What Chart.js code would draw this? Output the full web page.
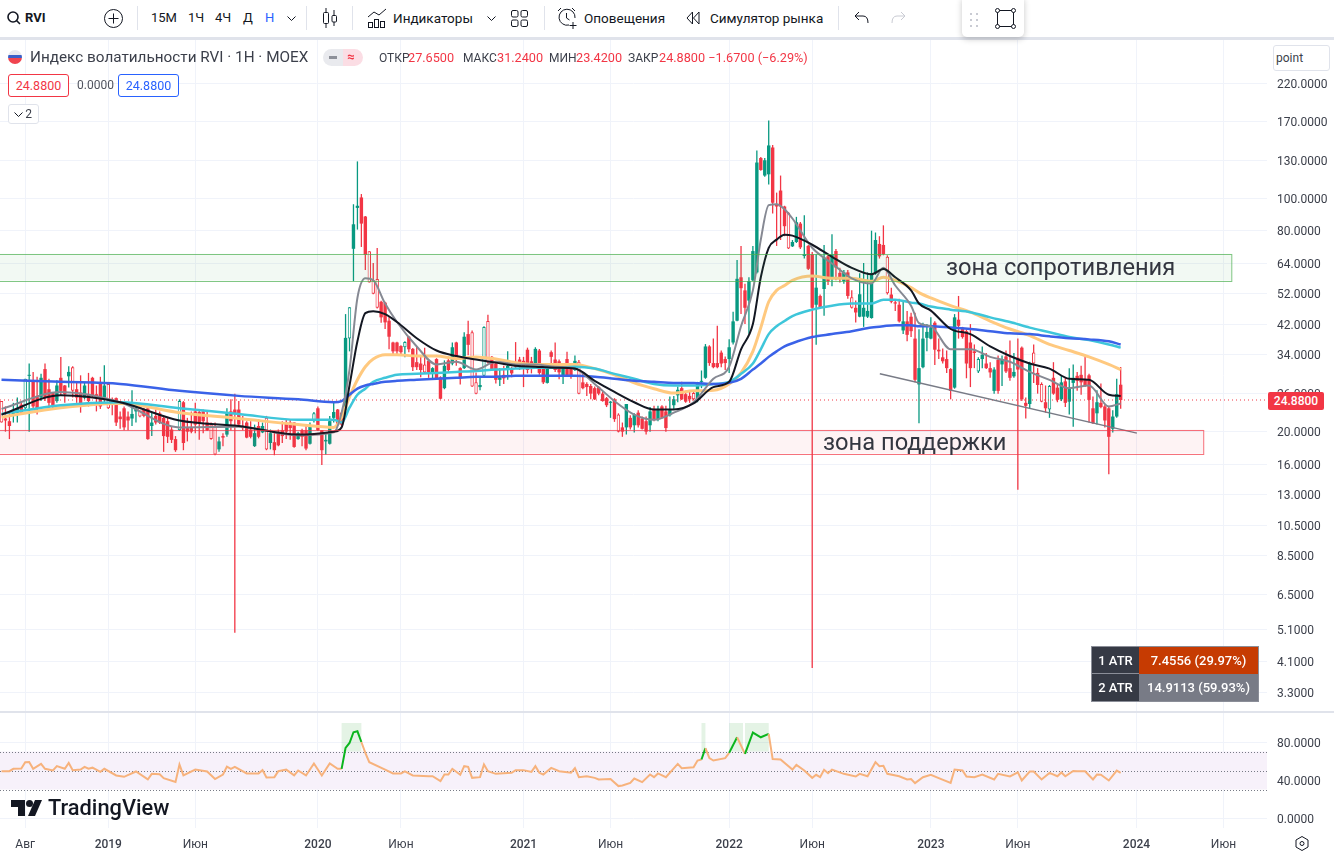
<!DOCTYPE html>
<html>
<head>
<meta charset="utf-8">
<title>RVI</title>
<script src="https://cdn.jsdelivr.net/npm/chart.js@4"></script>
<style>
html,body{margin:0;padding:0;background:#fff;width:1334px;height:851px;overflow:hidden;font-family:Roboto,sans-serif;color:#131722}
.t{position:absolute;white-space:nowrap;line-height:16px}
.box{position:absolute;box-sizing:border-box;border-radius:3px;text-align:center;background:#fff}
canvas{position:absolute;left:0}
svg{position:absolute;overflow:visible}
.d{position:absolute;top:6px;width:1px;height:24px;background:#e0e3eb}
.l{font-size:12px;color:#3b3f4a;top:50px}
.v{font-size:12.7px;color:#f23645;top:50px}
</style>
</head>
<body>
<canvas id="mainChart" width="1334" height="671" style="top:40px"></canvas>
<canvas id="rsiChart" width="1334" height="139" style="top:712px"></canvas>

<!-- верхняя панель -->
<div style="position:absolute;left:0;top:0;width:1334px;height:37px;background:#fff"></div>
<div style="position:absolute;left:0;top:37px;width:1334px;height:3px;background:#e0e3eb"></div>
<div style="position:absolute;left:0;top:711px;width:1334px;height:2px;background:#e0e3eb"></div>
<svg style="left:7px;top:11px" width="14" height="14" fill="none" stroke="#131722" stroke-width="1.6"><circle cx="6" cy="6" r="5"/><path d="M9.5 9.5L13 13"/></svg>
<div class="t" style="left:25px;top:10px;font-size:13px;font-weight:700">RVI</div>
<svg style="left:104px;top:9px" width="19" height="19" fill="none" stroke="#131722"><circle cx="9.5" cy="9.5" r="9"/><path d="M9.5 4.5v10M4.5 9.5h10"/></svg>
<div class="d" style="left:137px"></div>
<div class="t" style="left:151px;top:10px;font-size:13px">15М</div>
<div class="t" style="left:188px;top:10px;font-size:13px">1Ч</div>
<div class="t" style="left:215px;top:10px;font-size:13px">4Ч</div>
<div class="t" style="left:243px;top:10px;font-size:13px">Д</div>
<div class="t" style="left:265px;top:10px;font-size:13px;color:#2962ff">Н</div>
<svg style="left:287px;top:16px" width="9" height="5" fill="none" stroke="#131722"><path d="M.5.5L4.5 4.5 8.5.5"/></svg>
<div class="d" style="left:306px"></div>
<svg style="left:322px;top:8px" width="16" height="20" fill="none" stroke="#131722"><path d="M4 0v4M4 16v4M12 2v5M12 14v4"/><rect x="1.5" y="4.5" width="5" height="11" rx="1"/><rect x="10" y="7.5" width="4.5" height="6.5" rx="1"/></svg>
<div class="d" style="left:352px"></div>
<svg style="left:367px;top:8px" width="20" height="20" fill="none" stroke="#131722"><path d="M1 9L7 4l5 3 7-6"/><rect x="1.5" y="14.5" width="4" height="5"/><rect x="7.5" y="11.5" width="4" height="8"/><rect x="13.5" y="13.5" width="4" height="6"/></svg>
<div class="t" style="left:393px;top:10px;font-size:13.5px">Индикаторы</div>
<svg style="left:487px;top:16px" width="9" height="5" fill="none" stroke="#131722"><path d="M.5.5L4.5 4.5 8.5.5"/></svg>
<svg style="left:511px;top:10px" width="17" height="17" fill="none" stroke="#131722"><rect x=".5" y=".5" width="6.5" height="6.5" rx="1.5"/><rect x="10" y=".5" width="6.5" height="6.5" rx="1.5"/><rect x=".5" y="10" width="6.5" height="6.5" rx="1.5"/><rect x="10" y="10" width="6.5" height="6.5" rx="1.5"/></svg>
<div class="d" style="left:544px"></div>
<svg style="left:557px;top:7px" width="21" height="22" fill="none" stroke="#131722"><path d="M12 18A8 8 0 1 1 18 11M9.5 6v5l3 2M1 4l3-3M15 1l3 3M16 15v7M12.5 18.5h7"/></svg>
<div class="t" style="left:584px;top:10px;font-size:13.5px">Оповещения</div>
<svg style="left:686px;top:11px" width="14" height="14" fill="none" stroke="#131722"><path d="M6.5 1L1 7l5.5 6V1zM13 1L7.5 7l5.5 6V1z"/></svg>
<div class="t" style="left:710px;top:10px;font-size:13.5px">Симулятор рынка</div>
<div class="d" style="left:838px"></div>
<svg style="left:854px;top:11px" width="15" height="13" fill="none" stroke="#131722"><path d="M5 1L1 5l4 4M1 5h8q5 0 5 7"/></svg>
<svg style="left:891px;top:11px" width="15" height="13" fill="none" stroke="#c9cbd3"><path d="M10 1l4 4-4 4M14 5H6q-5 0-5 7"/></svg>
<div style="position:absolute;left:962px;top:-4px;width:62px;height:41px;background:#fff;border-radius:5px;box-shadow:0 2px 6px rgba(0,0,0,.22)"></div>
<svg style="left:970px;top:13px" width="9" height="16" fill="#c9cbd3"><rect width="2" height="2"/><rect x="6" width="2" height="2"/><rect y="6" width="2" height="2"/><rect x="6" y="6" width="2" height="2"/><rect y="12" width="2" height="2"/><rect x="6" y="12" width="2" height="2"/></svg>
<svg style="left:995px;top:8px" width="21" height="21" fill="#fff" stroke="#131722"><rect x="2.5" y="2.5" width="16" height="16" fill="none"/><circle cx="2.5" cy="2.5" r="2"/><circle cx="18.5" cy="2.5" r="2"/><circle cx="2.5" cy="18.5" r="2"/><circle cx="18.5" cy="18.5" r="2"/></svg>

<!-- заголовок -->
<div style="position:absolute;left:8px;top:50px;width:14px;height:14px;border-radius:7px;background:linear-gradient(#e8e8ef 0 33%,#3a5fc8 33% 60%,#f0444f 60%)"></div>
<div class="t" style="left:30px;top:49px;font-size:15.3px;color:#3b3f4a">Индекс волатильности RVI · 1Н · MOEX</div>
<div style="position:absolute;left:323px;top:49px;width:20px;height:17px;background:#e9eaee;border-radius:9px 0 0 9px"></div>
<div style="position:absolute;left:343px;top:49px;width:20px;height:17px;background:#fbdde4;border-radius:0 9px 9px 0"></div>
<div style="position:absolute;left:329px;top:56px;width:8px;height:3px;background:#8d9099"></div>
<div class="t" style="left:347px;top:49px;font-size:13px;color:#f23645;font-weight:700">≈</div>
<div class="t l" style="left:379px">ОТКР</div>
<div class="t v" style="left:408px">27.6500</div>
<div class="t l" style="left:463px">МАКС</div>
<div class="t v" style="left:497px">31.2400</div>
<div class="t l" style="left:549px">МИН</div>
<div class="t v" style="left:576px">23.4200</div>
<div class="t l" style="left:628px">ЗАКР</div>
<div class="t v" style="left:659px">24.8800 −1.6700 (−6.29%)</div>
<div class="box" style="left:8px;top:74px;width:61px;height:23px;border:1px solid #f23645;color:#f23645;font-size:12.5px;line-height:21px">24.8800</div>
<div class="t" style="left:77px;top:77px;font-size:12px;color:#50535e">0.0000</div>
<div class="box" style="left:118px;top:74px;width:61px;height:23px;border:1px solid #2962ff;color:#2962ff;font-size:12.5px;line-height:21px">24.8800</div>
<div class="box" style="left:8px;top:104px;width:31px;height:20px;border:1px solid #e0e3eb;font-size:12px;line-height:18px;color:#3b3f4a;text-align:right;padding-right:6px">2</div>
<svg style="left:14px;top:112px" width="9" height="5" fill="none" stroke="#131722"><path d="M.5.5L4.5 4.5 8.5.5"/></svg>
<div class="box" style="left:1273px;top:45px;width:57px;height:26px;border:1px solid #e0e3eb;font-size:12px;line-height:24px;text-align:left;padding-left:2px;color:#3b3f4a">point</div>

<!-- подписи зон -->
<div class="t" style="left:946px;top:255px;font-size:23.7px;line-height:24px;color:#333640">зона сопротивления</div>
<div class="t" style="left:823px;top:430px;font-size:23.7px;line-height:24px;color:#333640">зона поддержки</div>

<!-- метка цены -->
<div style="position:absolute;left:1268px;top:392px;width:56px;height:18px;background:#f23645;border-radius:2px;color:#fff;font-size:12px;font-weight:500;line-height:18px;text-align:center">24.8800</div>

<!-- таблица ATR -->
<div style="position:absolute;left:1092px;top:647px;width:166px;height:54px;outline:1px solid #8b8e98;font-size:13px;font-weight:500;color:#fff;line-height:27px;text-align:center">
<div style="position:absolute;left:0;top:0;width:47px;height:27px;background:#363a45;border-bottom:1px solid #8b8e98;box-sizing:border-box">1 ATR</div>
<div style="position:absolute;left:47px;top:0;width:119px;height:27px;background:#c63b02;box-sizing:border-box">7.4556 (29.97%)</div>
<div style="position:absolute;left:0;top:27px;width:47px;height:27px;background:#363a45">2 ATR</div>
<div style="position:absolute;left:47px;top:27px;width:119px;height:27px;background:#787b86">14.9113 (59.93%)</div>
</div>

<!-- логотип -->
<svg style="left:11px;top:800px" width="31" height="16" fill="#131722"><path d="M0 0h14v16H7V7H0z"/><circle cx="18.5" cy="3.5" r="3.5"/><path d="M24 0h7l-7 16h-7z"/></svg>
<div class="t" style="left:48px;top:796px;font-size:21.8px;line-height:24px;font-weight:500;color:#131722">TradingView</div>
<svg style="left:1295px;top:836px" width="14" height="15" fill="none" stroke="#131722"><path d="M7 .5l6 3.5v7l-6 3.5-6-3.5V4z"/><circle cx="7" cy="7.5" r="2"/></svg>

<script>
// Недельные свечи RVI, оценка по картинке
const bodyTops = [
24.7,21.9,21.5,23,23.5,24.1,28.8,29.6,28.5,25.6,
29,30.8,26.8,26.2,27.5,29,27.5,30.2,31.2,26.8,
26.2,27.5,25.9,29,25.9,27.8,27.5,27.8,25,25.2,
22.2,23.5,22.2,22.6,23.5,23.8,23.3,23.5,21.3,22.3,
22.7,22,21.5,20.3,19,24.7,24.5,20.5,20.5,23,
22.9,23,21.3,21,20.8,18.7,19.4,22.8,23,23.3,
23.3,20.8,21.3,20.3,19.8,20.8,20.8,22,19.8,18.6,
20,20.2,21.3,21.3,21.3,19.8,20.2,20.2,20.8,22.7,
23.5,20.2,18.9,21.5,22.9,23.3,22.8,38.2,47.2,83.6,
95,100.6,88.2,69.4,56.8,57.3,49,48.7,43,37,
37,36.1,37.1,38.5,35.4,32.3,32,31.8,32.6,31,
33,29.1,31.5,32.7,35.8,37,31,38.5,39.2,39.7,
28.1,27.6,41.2,42.9,33.5,32,29.1,29.6,31.5,31,
32,32.9,32.6,35.2,32.5,35.4,35,31,31.3,34.6,
32.9,32.5,31.5,33,31,32.6,32.4,28.1,27.8,27.4,
27,27.2,26,25.2,24.6,25,22.5,20.6,24.2,22,
22.5,22.8,21.9,21.5,23,23.4,23.4,23.8,23,23.2,
25,26.7,27,25.9,25.6,26.1,28,28.4,36,36,
32.1,32.1,34.5,33,35.8,42.8,57.4,58,53,56.5,
69.5,128,132,130,144,142,96,105.5,94.5,90.5,
74,84.8,84,68,72,68,54,51,66.5,67,
68,69.5,59.8,60,60,50.5,47,51.6,47,46,
59.7,75,73,72.5,66.8,51.5,48.8,48,42.8,42.8,
44.2,38,31,38,39.8,41,42.4,35.2,33.4,33,
30.8,44,43.3,41,40,37,34.8,33,34,32,
31,30.7,32.8,33,33.6,31,30.2,33.3,35.7,24.4,
32,34.5,30,27.8,24.5,27.4,29,27.1,28.1,28.3,
27.1,29,29.4,29.6,28.8,29.5,23.5,24.5,24.4,23.8,
23.5,22.2,25.9,27.65];
const bodyBottoms = [
21.3,21.6,20.8,22.5,22.8,22.8,23.5,29.4,23.8,23.5,
25.3,25.3,24.4,23.8,24.7,26.5,25.9,29.3,26.5,25.3,
24.1,25.3,24.7,25.7,25.3,23.8,25.3,23.5,24.4,21.3,
21.8,20.6,21.6,21.9,23,22.2,22.3,19,20.8,21.3,
21.3,19.4,19.3,18.9,17.6,20.2,18.5,20,20,21,
21.3,21.5,20.2,19,17.1,17.7,19.2,19.6,21.5,22.7,
21,20.5,19.2,19.3,18.1,19.3,19.9,17.7,18.5,17.6,
18.2,19.4,20,20.5,18,19,19.3,17.8,18.4,21.5,
20.2,17.6,18.7,18.4,22,21,21,23.3,38,70.6,
93.6,84,67.7,56,51.8,47,44,42.5,38.5,34.8,
34.8,34.6,35.8,35.3,31.2,31.2,30.6,30.1,30.1,30.1,
28.9,25.1,27,30.6,32,33.1,28.9,31,36.4,27.3,
26,27.2,29.4,32.2,30.6,28.6,28.6,28.9,31,29.9,
31.3,31.3,31,30.6,31,31.3,30,28.1,28,33.5,
30.6,30.1,29.4,29.4,29.4,30.6,26,27,27.2,26,
25,26,24.7,24,24.4,21.8,20,20,20.6,20.6,
20.9,20.9,20.4,20,20.9,21.8,21.8,22,20.5,22.4,
24,25.7,25,24.6,25,25,25,28.2,29,32.1,
31.2,31.2,32,32.1,33,37,43,53.8,47,49.4,
56.8,60,121.6,117,118,97,94.5,94.5,82.5,70.8,
71.8,74,71.3,67.2,61.5,47,48,47,53.5,56.5,
58,62,58,56.5,51,47,45.5,44.2,44.2,44.2,
43.8,59.6,67,68,52,49,48.4,42.8,40.2,39,
40,28.6,27.7,31.2,38.2,38,35.2,34.8,32.5,31,
26.5,27.1,41.5,38.4,32,31,34.4,30.3,33,31,
30.1,26.5,26.5,31.8,30.3,29,29.3,30.7,25,23.9,
24.2,32,27.6,24.6,23.5,23.3,26,24.9,25,24.4,
24.6,28,28.4,28.1,27.4,24.9,21.2,22.7,23.7,21.6,
19.3,20.4,22.2,24.88];
const highs = [
24.7,23.8,23,24.4,25.3,24.5,28.8,32,30.2,29.2,
29.8,32,28.8,26.3,28.5,33.5,27.6,31.4,31.4,28.1,
29.5,28.1,30,29.2,27.5,29.2,31.6,28.1,25.3,25.3,
23,23.8,23,26.6,24,24,23.6,23.8,22.8,23.3,
23,22.3,22,20.8,19.4,25,24.7,22,23,24.4,
23.3,23.3,23,21.3,21.3,19.3,19.8,23.5,25,26,
24.7,22.3,21.5,21.5,21,21.8,21.3,22.3,20.3,19.8,
20.3,21.5,21.8,21.7,21.3,20,20.4,21,21.3,22.9,
23.8,20.2,19.7,22.3,24.5,23.4,23,45,47.2,96,
129,103,88.5,69.4,64,71,49.3,49,44.2,37.2,
37.2,36.3,37.3,38.7,35.6,35.9,33.9,35.7,32.8,31.2,
33.2,29.3,32.7,33,37,37.2,31.2,39.7,43,40.2,
30.1,29.1,41.4,44.8,33.7,32.5,31,31.5,34.8,31.3,
37.1,33.5,33.5,35.7,33.5,35.8,35.4,32,31.6,35,
37,32.9,32,34.7,32,33.8,32.8,30.1,28.1,27.8,
27.3,27.4,26.4,25.4,24.7,25.2,22.7,21.3,24.2,22.4,
22.7,23.2,22.2,22.2,23.7,23.9,23.9,24,23.9,25.5,
25.6,27.3,28.2,26.5,26.5,26.3,28.2,30.5,36.6,36.3,
38,41.5,35,33.6,37.8,45.7,65.4,72,55.5,58,
72,139,133,132,171,144.5,104,117,95,91,
75,88,85,89,72.5,69,68,51.5,72.5,68,
78,70.5,62,61,61,53,49.4,59.6,64,60,
80,79,77,83,67.5,54,49.4,50,49.6,46,
45.4,45.4,40.5,42.4,42,44,42.8,38,35.5,35,
31,45,51,41.2,40.5,42,36.5,33.4,36,34.4,
32.3,31.2,33.8,33.8,35,37.5,34.4,38,36,25.3,
32.4,36.5,31,28.1,27.5,27.6,32.3,27.8,29.5,29,
31,31.8,30.2,31.5,34,29.8,25.5,26.6,27.9,24.1,
23.8,23.2,28.8,31.24];
const lows = [
21.3,20,19,21.3,21.3,22.5,23.4,20,23.4,22.5,
24.7,24.7,23.5,23.5,24.4,25.6,24.4,27.1,25.3,24.4,
22.8,25,23.8,25.3,23,23.4,24.5,23.4,22.4,20.8,
20.4,20.2,20.2,20.8,21.3,22.1,22.1,18.9,19.4,21,
21.1,17.4,18.5,18.5,17.4,20.1,17.6,18.7,19.8,19.8,
18.9,19.8,20.1,18.9,17,17.4,18.1,19.3,20.2,5,
20.8,20.2,19.1,19.1,18,19.1,19.8,17.6,17.7,17,
18.1,18.5,19,18.9,17.9,18.9,18.1,17.6,18.3,21.3,
20.1,15.9,17.1,18.3,21.3,20.9,20.8,22.2,34.8,56.5,
80.6,71.5,61,56,51.6,46.8,42.4,40.6,35.3,33.9,
34.2,34,33.4,34.6,30.4,30.6,29.1,30,29,28.9,
28.8,25,26.8,30.2,31.6,31.5,27.7,30.8,33.9,27.2,
25.9,26.6,29.2,32,30.4,27.9,27.4,27.8,28.6,29.1,
31,30.6,27.2,29.9,29.9,31,29.6,27.8,27.9,31,
30.2,28.7,27.8,29.2,28.8,30.4,25.9,26.8,25.6,25,
24.9,25.7,24.6,23.7,22,21.4,19.9,19.3,19.6,20.3,
19.9,20.6,20.3,19.6,20,21.5,21.5,21.9,20,22.2,
23.3,24.5,24.9,24.4,24.4,24.8,24.5,27,28.8,31.5,
31,31,31.2,30.6,30,36.5,42.8,45,42,39.3,
56.5,59.5,121,116,110,90,72,75,77,70.5,
71.5,73.5,70.5,66,61,3.92,36.4,46.8,44.5,55,
54.5,56.8,56,55.5,50,46.8,42.5,44,41.2,43.8,
43.6,59,66,67.5,51.5,48.5,46,42.5,39.2,37.3,
38.4,28.1,21.2,31,34.8,37.8,31.7,33,32,30,
25,26.9,38,38,28.9,27.2,31,30,31,30.8,
29,26,26,27.4,30,28.4,29,13.4,24.7,21.9,
23.4,28,26,24.5,22.8,22,25.8,24.5,24.7,23.7,
22.5,20.7,26.5,25.8,27.2,21.3,21.1,21,23.5,20.6,
14.9,19.9,22,23.42];
// r, g закрашенная свеча; R, G полая
const candleKinds = [
'RrrggrGgrr','grrrgrrgRr','rgrrrrgRrr','rrrggRrrgr','rrrrrGrrrr','rrrRRgrgrr','rrrrgrgRgr','rrrrrgrrgG','rrgggrrgGg',
'grrRRRrrrr','rrGrrrrRrg','rrgrgrrgrR','RgGRrrgrgr','rrrrrgrrgr','rrgrrgRrrr','rrrrgrRrgr','grrrgrgrrg','ggrrrRgggr',
'rrrrgggrrg','ggrggrrrrR','ggrgrrgrgr','grrgrRrggg','ggrrRrrrgr','rrggggrrrr','rgrrrrrGgr','rgrgrrgrrr','gRrRrGrrgr','ggrrrrrgrr','rggr'
].join('');

// Скользящие средние: точки
const maWeeks = [0,15,30,45,60,75,84,86,88,90,92,94,97,100,105,110,115,120,125,130,135,140,145,150,155,160,165,170,175,180,184,187,190,192,194,196,198,200,205,210,215,220,223,226,230,232,235,240,245,250,255,260,265,270,275,280,283];
const maGray = [23.4,26.3,24.5,20.6,20.7,19.5,19.9,22.8,30.7,50.3,57.6,56.8,48.4,42.6,36,31.8,32.4,30.7,32.4,31.8,31.8,31.3,30.9,27.8,24.7,22.5,21.7,22.8,24.5,28.8,31.3,41.4,53,75.2,95.4,96,92.8,87,71.1,63.8,57.6,55.6,61.9,54.8,47.7,42.3,41.4,35.3,35.3,33.5,32.4,30.2,28.6,27,27.5,23.8,24.3];
const maBlack = [22.5,25.7,24.5,21.6,20.8,19.6,20,20.6,27.5,37.3,45.3,45.9,45,42.6,38.1,35,33.7,32.9,32.2,31.5,31.3,31.1,30.9,28.4,26.3,24.5,23.3,23.3,24.3,27.2,28.2,35.3,42,58,71.1,75.2,77.8,77.3,72.6,66.8,61.9,59.2,61.4,58,53,48.4,46.1,40.6,39.2,36,33.7,32,30.9,28.8,28.6,25.8,25.6];
const maOrange = [22.1,23.6,24.3,22.8,21.9,21,20.6,22.1,25.4,28.6,31.3,33,34,34,33.7,33.7,33.1,33.5,33,32.2,31.8,31.8,31.8,30.9,29.6,28,26.9,26.1,26.5,26.6,27.8,30,34.8,41,49,53,54.8,56.8,58.5,57.6,57.6,56.4,58,56.8,54,52.2,50.3,47.7,45.6,42.9,40.6,38.8,36.5,35,33.5,31.8,30.7];
const maCyan = [22.6,24,24.5,23.5,22.6,21.7,21.7,21.3,23.6,25.8,26.9,28.2,29,29.6,29.8,30,30.2,30.4,30.7,30.9,31.1,31.1,31.3,30.9,29.8,28.8,27.8,27.5,27.5,27.8,28.2,29.8,32,35.3,39.2,41.4,42.9,44.4,46.4,47.7,48.4,48.4,49.7,49.7,48.7,48.4,47.4,46.4,45.6,44,42.6,41,39.7,38.4,37.6,36.5,35.7];
const maBlue = [28.6,28.2,27.8,26.5,25.6,25,24.5,24.7,25.8,26.9,27.5,27.8,28.2,28.4,28.6,28.8,29,29.2,29.2,29.4,29.4,29.4,29.4,29.2,28.8,28.4,28.2,28,28,27.8,28,28.8,30.7,32,33.5,34.8,36,36.8,38.4,39.2,40,41,41.4,41.7,41.7,41.4,41.4,41,40.6,40,39.4,39.2,38.6,38.1,37.8,37.3,36.5];

// RSI
const rsiWeeks = [0,2,3,5,6,7,8,10,11,13,14,16,17,18,20,21,22,23,25,26,29,31,34,37,38,40,41,44,45,46,49,52,54,56,57,58,59,62,65,66,67,69,70,72,74,75,77,79,81,83,85,86,87,88,89,90,91,92,93,97,99,101,102,104,108,109,111,112,113,114,116,117,118,119,121,122,123,125,129,130,132,134,135,136,137,139,141,144,145,146,148,150,151,154,156,157,159,160,162,164,165,166,168,171,172,175,176,177,178,179,180,183,184,186,188,190,192,194,195,197,200,201,203,205,206,207,208,209,210,213,216,217,219,221,222,223,224,227,229,230,231,233,235,237,240,241,243,244,246,248,251,252,255,257,258,260,261,263,265,267,268,269,271,272,274,276,277,278,280,282,283];
const rsiValues = [49.3,49.3,51.8,52,58.8,59,51.8,57,51.8,50,54.6,51.8,58,50.4,51,53.9,52,53,48.6,51.8,44.8,43.4,49,40.6,46.5,46,42,38,56.3,44.8,51,49,41,45.8,54.2,51.8,53.9,46.9,46.9,50.4,42.7,43,49.3,51,45,50,44.8,57.4,44.8,57.4,51.8,51.8,73.8,79,90.3,91.3,80,68.6,58.8,51,46.9,46.9,49,44.8,44,44,38.8,45.8,45.8,51.8,45.5,54.6,53.9,42.3,43,56.3,49.3,46.5,47.6,50.4,50.4,48.6,54.6,47.6,45.8,52.8,49.3,47.6,52.5,43,44,42.3,40.6,41,33.6,34.3,37,41.6,37.8,45.8,43,46.9,43,57,52.5,53.5,60.5,61.6,73.5,63,60.5,63,68.6,85,67.5,90,85,88.5,62,61.6,51,56,50,42.3,45.5,43,50.7,47.2,51,46.5,43.7,46.5,44,58.8,54.6,55,46.5,44,40.6,41,36.7,43,45.5,42,37,51,50,43.7,43,45.8,40.6,46.5,43.7,48,39.5,49,49,40.6,47.5,44,48,44,49.6,49.3,49.3,40.6,45.8,45.5,39.5,50,47.5];
const hotRanges = [[86,91],[177,178],[184,187.5],[188,194]];
const rsiBandLevels = [30,50,70];

// Оси
const priceTicks = [220,170,130,100,80,64,52,42,34,26,20,16,13,10.5,8.5,6.5,5.1,4.1,3.3];
const timeWeeks = [6,27,49,80,101,132,154,184,205,235,257,287,309];
const timeLabels = ['Авг','2019','Июн','2020','Июн','2021','Июн','2022','Июн','2023','Июн','2024','Июн'];
const rsiTicks = [0,40,80];

// Зоны и линии, проведённые автором графика
const resistanceZone = [56.7,68.2,311.1];
const supportZone = [17.2,20.3,304];
const trendWeeks = [222.1,287.1];
const trendPrices = [29.8,19.8];
const lastClose = 24.88;

const GREEN = '#089981', RED = '#f23645', GRID = '#f0f3fa';
const weekMin = -0.38, weekMax = 320;
const isHollow = k => k === 'R' || k === 'G';
const candleColor = k => (k === 'g' || k === 'G') ? GREEN : RED;
const kinds = candleKinds.split('');

const pairs = (xs, ys) => xs.map((x, i) => ({x: x, y: ys[i]}));

// Chart.js оставляет поля под крайние подписи, здесь они не нужны
function fitAxis(scale, width) {
    scale.width = width;
    scale.paddingTop = 0;
    scale.paddingBottom = 0;
}

function maLine(values, color, width, order) {
    return {
        type: 'line', data: pairs(maWeeks, values), borderColor: color, borderWidth: width,
        pointRadius: 0, cubicInterpolationMode: 'monotone', order: order
    };
}

// Зоны поверх свечей
const zonesPlugin = {
    id: 'zones',
    afterDatasetsDraw(chart) {
        const {ctx, scales: {x, y}} = chart;
        const drawZone = (zone, fill, stroke) => {
            const left = x.getPixelForValue(weekMin);
            const right = x.getPixelForValue(zone[2]);
            const top = y.getPixelForValue(zone[1]);
            const bottom = y.getPixelForValue(zone[0]);
            ctx.save();
            ctx.fillStyle = fill;
            ctx.fillRect(left, top, right - left, bottom - top);
            ctx.strokeStyle = stroke;
            ctx.lineWidth = 1;
            ctx.strokeRect(left - 2, Math.round(top) + 0.5, right - left + 2, Math.round(bottom - top));
            ctx.restore();
        };
        drawZone(resistanceZone, 'rgba(76,175,80,0.07)', 'rgba(76,175,80,0.7)');
        drawZone(supportZone, 'rgba(242,54,69,0.06)', 'rgba(242,54,69,0.7)');
    }
};

new Chart(document.getElementById('mainChart'), {
    type: 'bar',
    data: {
        datasets: [
            maLine(maBlack, '#131722', 2, 1),
            maLine(maGray, '#868993', 2, 2),
            maLine(maBlue, '#3a62e8', 2.5, 3),
            maLine(maCyan, '#3ec6da', 2.5, 4),
            maLine(maOrange, '#ffc97f', 3, 5),
            {
                type: 'line', data: pairs(trendWeeks, trendPrices), borderColor: '#787b86',
                borderWidth: 1.5, pointRadius: 0, order: 0
            },
            {
                type: 'line', data: pairs([weekMin, weekMax], [lastClose, lastClose]), borderColor: RED,
                borderWidth: 1, borderDash: [1, 3], pointRadius: 0, order: 6
            },
            {
                data: kinds.map((k, i) => ({x: i, y: [bodyBottoms[i], bodyTops[i]]})),
                backgroundColor: kinds.map(k => isHollow(k) ? '#fff' : candleColor(k)),
                borderColor: kinds.map(candleColor),
                borderWidth: kinds.map(k => isHollow(k) ? 1 : 0),
                borderSkipped: false, inflateAmount: 0,
                barThickness: 3.4, minBarLength: 1, grouped: false, order: 7
            },
            {
                data: kinds.map((k, i) => ({x: i, y: [lows[i], highs[i]]})),
                backgroundColor: kinds.map(candleColor),
                inflateAmount: 0,
                barThickness: 1.3, grouped: false, order: 8
            }
        ]
    },
    options: {
        responsive: false,
        animation: false,
        layout: {padding: 0},
        plugins: {legend: {display: false}, tooltip: {enabled: false}},
        scales: {
            x: {
                type: 'linear', min: weekMin, max: weekMax, offset: false,
                afterBuildTicks: s => { s.ticks = timeWeeks.map(v => ({value: v})); },
                afterFit: s => { s.height = 0; },
                ticks: {display: false},
                border: {display: false},
                grid: {color: GRID, drawTicks: false, offset: false}
            },
            y: {
                type: 'logarithmic', position: 'right', min: 2.913, max: 298, bounds: 'data', beginAtZero: false,
                afterBuildTicks: s => { s.ticks = priceTicks.map(v => ({value: v})); },
                afterFit: s => fitAxis(s, 67),
                border: {display: false},
                grid: {color: GRID, drawTicks: false},
                ticks: {
                    autoSkip: false, padding: 10, labelOffset: 1.5, color: '#3b3f4a',
                    font: {family: 'Roboto', size: 12},
                    callback: v => Number(v).toFixed(4)
                }
            }
        }
    },
    plugins: [zonesPlugin]
});

// Полоса RSI и зелёная подсветка
const rsiBandPlugin = {
    id: 'rsiBand',
    beforeDatasetsDraw(chart) {
        const {ctx, chartArea, scales: {x, y}} = chart;
        ctx.save();
        const top = y.getPixelForValue(rsiBandLevels[2]);
        const bottom = y.getPixelForValue(rsiBandLevels[0]);
        ctx.fillStyle = '#f7f1fa';
        ctx.fillRect(chartArea.left, top, chartArea.width, bottom - top);
        ctx.fillStyle = 'rgba(76,175,80,0.15)';
        const hotTop = y.getPixelForValue(100);
        hotRanges.forEach(r => {
            const l = x.getPixelForValue(r[0]);
            ctx.fillRect(l, hotTop, x.getPixelForValue(r[1]) - l, top - hotTop);
        });
        ctx.strokeStyle = '#787b86';
        ctx.setLineDash([1, 2]);
        rsiBandLevels.forEach(v => {
            const p = Math.round(y.getPixelForValue(v)) + 0.5;
            ctx.beginPath();
            ctx.moveTo(chartArea.left, p);
            ctx.lineTo(chartArea.right, p);
            ctx.stroke();
        });
        ctx.restore();
    }
};

const isHot = (a, b) => hotRanges.some(r => a >= r[0] && b <= r[1]);
const isYear = v => /^\d/.test(timeLabels[timeWeeks.indexOf(v)] || '');

new Chart(document.getElementById('rsiChart'), {
    type: 'line',
    data: {
        datasets: [{
            data: pairs(rsiWeeks, rsiValues),
            borderColor: '#f7b27c',
            borderWidth: 2,
            pointRadius: 0,
            segment: {
                borderColor: c => isHot(c.p0.parsed.x, c.p1.parsed.x) ? '#0bb51d' : undefined
            }
        }]
    },
    options: {
        responsive: false,
        animation: false,
        layout: {padding: 0},
        plugins: {legend: {display: false}, tooltip: {enabled: false}},
        scales: {
            x: {
                type: 'linear', min: weekMin, max: weekMax,
                afterBuildTicks: s => { s.ticks = timeWeeks.map(v => ({value: v})); },
                afterFit: s => { s.height = 23; },
                border: {display: false},
                grid: {color: GRID, drawTicks: false},
                ticks: {
                    autoSkip: false, maxRotation: 0, padding: 10,
                    color: '#3b3f4a',
                    font: c => ({family: 'Roboto', size: 12, weight: c.tick && isYear(c.tick.value) ? '500' : '400'}),
                    callback: v => timeLabels[timeWeeks.indexOf(v)]
                }
            },
            y: {
                type: 'linear', position: 'right', min: -10.5, max: 111.6,
                afterBuildTicks: s => { s.ticks = rsiTicks.map(v => ({value: v})); },
                afterFit: s => fitAxis(s, 67),
                border: {display: false},
                grid: {color: GRID, drawTicks: false},
                ticks: {
                    autoSkip: false, padding: 10, labelOffset: 1.5, color: '#3b3f4a',
                    font: {family: 'Roboto', size: 12},
                    callback: v => Number(v).toFixed(4)
                }
            }
        }
    },
    plugins: [rsiBandPlugin]
});
</script>
</body>
</html>
